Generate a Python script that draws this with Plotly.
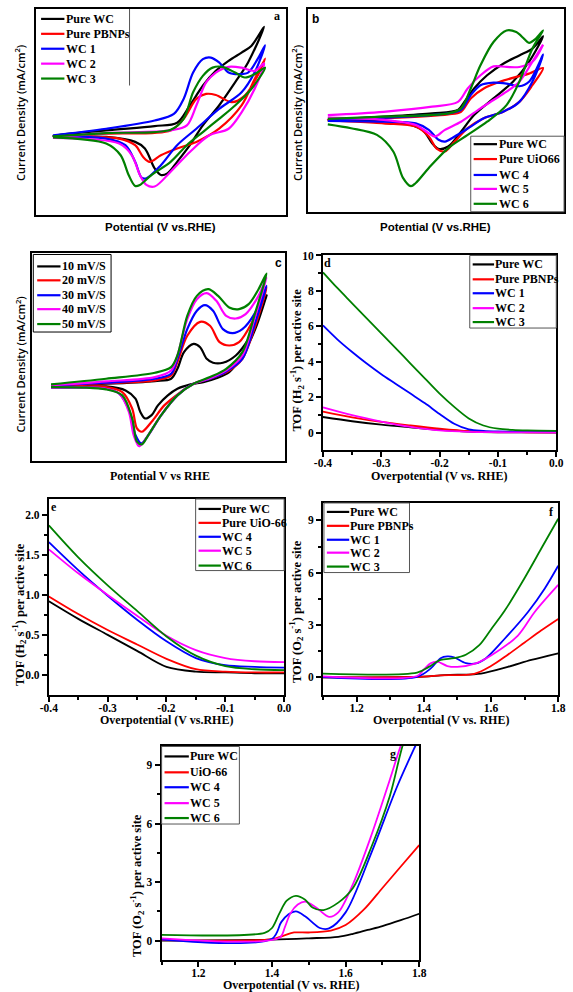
import plotly.graph_objects as go

W, H = 573, 992

COLORS = ["#000000", "#ff0000", "#0000ff", "#ff00ff", "#008000"]

# ---------------- Panel a (CV, arbitrary units) ----------------
A_NAMES = ["Pure WC", "Pure PBNPs", "WC 1", "WC 2", "WC 3"]
A_PURE_WC_X = [6.7, 28.0, 47.4, 56.4, 61.5, 66.7, 71.9, 77.0, 82.2, 86.1, 91.2,
               84.8, 79.6, 73.2, 66.7, 61.5, 56.4, 52.5, 49.9, 47.4, 43.5, 39.6, 28.0, 6.7]
A_PURE_WC_Y = [38.3, 41.0, 43.1, 44.7, 53.1, 62.7, 69.9, 74.8, 78.8, 82.0, 91.3,
               74.0, 64.3, 53.1, 43.4, 33.8, 25.7, 20.1, 19.3, 22.5, 32.2, 35.4, 37.8, 38.3]
A_PBNPS_X = [6.7, 28.0, 53.8, 59.0, 64.1, 68.0, 71.9, 78.3, 83.5, 88.6, 91.6,
             87.4, 82.2, 73.2, 64.1, 56.4, 49.9, 45.4, 42.8, 39.6, 33.2, 6.7]
A_PBNPS_Y = [37.8, 39.4, 41.0, 46.6, 56.3, 58.7, 58.2, 54.7, 57.9, 67.5, 75.9,
             65.9, 53.1, 41.8, 35.4, 32.2, 28.9, 25.7, 28.1, 33.8, 37.0, 37.6]
A_WC1_X = [6.7, 28.0, 47.4, 55.1, 59.0, 62.8, 66.7, 69.9, 73.2, 77.0, 80.9, 84.8, 88.6, 91.6,
           87.4, 82.2, 73.2, 64.1, 56.4, 49.9, 44.1, 42.2, 39.6, 35.7, 28.0, 6.7]
A_WC1_Y = [38.6, 41.8, 45.8, 49.0, 56.3, 69.1, 75.6, 76.4, 74.0, 69.1, 68.3, 69.1, 75.6, 82.3,
           69.1, 59.5, 51.4, 41.8, 33.8, 24.1, 17.7, 18.0, 25.7, 33.8, 37.0, 38.1]
A_WC2_X = [6.7, 28.0, 53.8, 60.3, 64.1, 68.0, 71.9, 77.0, 82.2, 87.4, 91.2,
           87.4, 82.2, 77.0, 69.3, 61.5, 53.8, 47.4, 44.1, 41.5, 38.3, 33.2, 6.7]
A_WC2_Y = [37.6, 39.7, 41.0, 43.4, 53.1, 64.3, 69.1, 71.9, 71.5, 69.9, 73.6,
           61.1, 49.8, 41.8, 38.6, 30.5, 20.9, 13.7, 14.5, 19.3, 28.9, 34.6, 37.3]
A_WC3_X = [6.7, 28.0, 53.8, 59.0, 62.8, 66.7, 70.6, 74.5, 79.6, 83.5, 87.4, 91.6,
           86.1, 79.6, 73.2, 66.7, 60.3, 53.8, 46.1, 41.5, 39.6, 37.0, 33.8, 28.0, 6.7]
A_WC3_Y = [38.1, 39.7, 41.3, 46.6, 59.5, 67.5, 71.5, 71.9, 69.1, 66.7, 68.3, 71.5,
           61.1, 53.1, 46.6, 40.2, 33.8, 25.7, 19.3, 14.5, 14.0, 19.3, 28.9, 34.6, 37.6]

# ---------------- Panel b (CV, arbitrary units) ----------------
B_NAMES = ["Pure WC", "Pure UiO66", "WC 4", "WC 5", "WC 6"]
B_PURE_WC_X = [7.6, 29.4, 48.4, 58.5, 61.0, 64.8, 69.9, 76.2, 82.5, 87.6, 91.8,
               86.3, 80.0, 72.4, 64.8, 59.7, 54.7, 50.9, 48.4, 44.6, 35.7, 7.6]
B_PURE_WC_Y = [45.3, 46.9, 48.5, 50.2, 54.2, 60.8, 67.3, 73.0, 77.1, 80.4, 86.6,
               73.9, 64.1, 55.9, 47.7, 39.5, 32.2, 31.0, 33.8, 40.4, 44.1, 44.8]
B_UIO_X = [7.6, 29.4, 54.7, 59.7, 63.5, 68.6, 74.9, 81.3, 86.3, 91.8,
           87.6, 82.5, 76.2, 68.6, 62.3, 57.2, 53.4, 50.3, 47.1, 42.0, 29.4, 7.6]
B_UIO_Y = [45.3, 46.1, 48.0, 49.3, 55.9, 60.8, 64.1, 66.5, 68.1, 70.9,
           62.4, 54.2, 49.3, 46.1, 41.2, 34.6, 29.7, 31.0, 37.1, 42.0, 43.6, 45.3]
B_WC4_X = [7.6, 29.4, 54.7, 59.7, 63.5, 67.3, 72.4, 77.5, 82.5, 86.3, 91.8,
           87.6, 82.5, 76.2, 68.6, 63.5, 57.2, 53.4, 50.9, 47.1, 42.0, 29.4, 7.6]
B_WC4_Y = [45.3, 46.4, 48.5, 50.2, 57.5, 62.4, 63.7, 63.2, 61.9, 64.1, 77.5,
           64.1, 54.2, 49.3, 46.1, 42.0, 37.1, 34.6, 35.5, 40.4, 43.6, 44.4, 44.8]
B_WC5_X = [7.6, 29.4, 48.4, 58.5, 62.3, 67.3, 72.4, 77.5, 82.5, 87.6, 91.8,
           87.6, 82.5, 77.5, 72.4, 67.3, 59.7, 53.4, 49.6, 47.1, 42.0, 29.4, 7.6]
B_WC5_Y = [47.7, 49.3, 51.8, 54.2, 60.8, 67.3, 71.7, 71.4, 71.4, 73.9, 82.4,
           73.9, 64.1, 59.2, 55.1, 51.0, 44.4, 40.4, 37.1, 38.7, 42.8, 45.3, 46.4]
B_WC6_X = [7.6, 29.4, 54.7, 59.7, 63.5, 67.3, 72.4, 77.5, 81.3, 84.4, 86.3, 88.9, 91.8,
           87.6, 82.5, 77.5, 69.9, 62.3, 54.7, 47.1, 42.0, 40.1, 37.0, 33.2, 26.8, 16.7, 7.6]
B_WC6_Y = [45.8, 46.9, 48.5, 51.0, 60.8, 72.2, 83.7, 89.4, 88.6, 85.3, 83.3, 85.3, 89.4,
           80.4, 64.1, 52.6, 44.4, 37.9, 31.4, 21.6, 14.2, 12.6, 16.7, 29.7, 37.9, 41.2, 43.1]

# ---------------- Panel c (CV at scan rates) ----------------
C_NAMES = ["10 mV/S", "20 mV/S", "30 mV/S", "40 mV/S", "50 mV/S"]
C_10_X = [7.4, 29.2, 48.5, 54.9, 57.4, 60.0, 63.8, 66.4, 69.0, 71.5, 75.4, 80.5, 85.6, 89.5, 92.7,
          88.2, 83.1, 77.9, 72.8, 67.7, 62.6, 57.4, 53.6, 49.7, 47.2, 44.6, 42.7, 40.8, 36.9, 29.2, 7.4]
C_10_Y = [36.5, 37.3, 38.6, 39.7, 44.5, 52.5, 56.5, 54.9, 49.3, 47.4, 47.4, 50.9, 58.9, 68.4, 79.9,
          63.6, 50.9, 42.9, 40.0, 38.1, 37.0, 34.9, 31.7, 26.9, 22.2, 20.6, 23.8, 30.1, 34.1, 36.0, 36.0]
C_20_X = [7.4, 29.2, 48.5, 54.9, 57.4, 61.3, 66.4, 70.3, 74.1, 77.9, 81.8, 86.9, 92.7,
          88.2, 83.1, 77.9, 70.3, 63.8, 58.7, 52.3, 47.2, 43.3, 41.4, 39.5, 35.6, 29.2, 7.4]
C_20_Y = [36.5, 37.6, 38.9, 41.3, 47.7, 60.4, 67.1, 65.2, 57.3, 55.7, 57.3, 66.8, 83.6,
          65.2, 49.3, 43.7, 39.7, 37.3, 33.3, 27.0, 19.0, 14.2, 15.8, 25.4, 33.3, 35.7, 35.7]
C_30_X = [7.4, 29.2, 48.5, 54.9, 57.4, 61.3, 65.1, 68.3, 71.5, 75.4, 79.2, 83.1, 88.2, 92.7,
          88.2, 83.1, 76.7, 70.3, 63.8, 57.4, 51.0, 45.9, 43.1, 40.8, 38.5, 34.4, 29.2, 7.4]
C_30_Y = [36.5, 37.8, 39.7, 42.1, 49.3, 63.6, 72.4, 75.1, 72.4, 63.6, 61.7, 63.6, 71.6, 84.4,
          66.8, 49.3, 43.2, 39.7, 37.3, 31.7, 22.2, 12.6, 8.6, 12.6, 23.8, 32.5, 34.9, 35.4]
C_40_X = [7.4, 29.2, 48.5, 54.9, 57.4, 61.3, 65.1, 69.0, 72.8, 76.7, 80.5, 84.4, 89.5, 92.7,
          88.2, 83.1, 76.7, 70.3, 63.8, 57.4, 51.0, 45.9, 42.3, 40.1, 38.2, 34.4, 29.2, 7.4]
C_40_Y = [36.5, 38.4, 40.5, 43.7, 50.9, 68.4, 78.0, 80.9, 77.2, 70.0, 68.7, 70.8, 79.6, 88.4,
          70.0, 50.9, 43.7, 40.0, 37.3, 31.7, 22.2, 12.6, 7.2, 12.6, 23.8, 32.5, 34.9, 35.4]
C_50_X = [7.4, 29.2, 48.5, 54.9, 57.4, 61.3, 65.1, 69.6, 73.5, 77.9, 81.8, 85.6, 89.5, 92.7,
          88.2, 83.1, 76.7, 70.3, 63.8, 57.4, 51.0, 45.9, 43.3, 41.4, 39.5, 35.6, 29.2, 7.4]
C_50_Y = [37.0, 39.7, 42.6, 45.3, 50.9, 70.0, 79.6, 82.8, 79.6, 74.0, 73.2, 75.6, 82.8, 90.3,
          71.6, 52.5, 44.5, 40.5, 37.3, 31.7, 22.2, 12.6, 8.1, 9.4, 20.6, 31.7, 34.6, 35.7]

# ---------------- Panel d (TOF H2) ----------------
D_NAMES = ["Pure WC", "Pure PBNPs", "WC 1", "WC 2", "WC 3"]
D_X9 = [-0.4, -0.35, -0.3, -0.25, -0.2, -0.15, -0.1, -0.05, 0.0]
D_PURE_WC = [0.88, 0.64, 0.45, 0.30, 0.16, 0.06, 0.02, 0.01, 0.0]
D_PBNPS = [1.18, 0.86, 0.60, 0.40, 0.22, 0.08, 0.03, 0.02, 0.02]
D_WC2 = [1.42, 0.98, 0.62, 0.32, 0.12, 0.04, 0.02, 0.01, 0.0]
D_X15 = [-0.4, -0.375, -0.35, -0.325, -0.3, -0.275, -0.25, -0.225, -0.2, -0.175, -0.15,
         -0.125, -0.1, -0.05, 0.0]
D_WC1 = [6.05, 5.25, 4.55, 3.9, 3.3, 2.75, 2.2, 1.65, 1.05, 0.5, 0.18, 0.1, 0.07, 0.05, 0.05]
D_X16 = [-0.4, -0.375, -0.35, -0.325, -0.3, -0.275, -0.25, -0.225, -0.2, -0.175, -0.15,
         -0.125, -0.1, -0.075, -0.05, 0.0]
D_WC3 = [9.05, 8.15, 7.3, 6.45, 5.6, 4.75, 3.9, 3.05, 2.2, 1.45, 0.8, 0.4, 0.22, 0.15, 0.12, 0.1]

# ---------------- Panel e (TOF H2) ----------------
E_NAMES = ["Pure WC", "Pure UiO-66", "WC 4", "WC 5", "WC 6"]
E_X = [-0.4, -0.35, -0.3, -0.25, -0.2, -0.15, -0.1, -0.05, 0.0]
E_PURE_WC = [0.92, 0.70, 0.50, 0.30, 0.10, 0.04, 0.03, 0.02, 0.02]
E_UIO = [0.98, 0.76, 0.56, 0.38, 0.20, 0.07, 0.04, 0.03, 0.03]
E_WC4 = [1.66, 1.31, 0.99, 0.69, 0.42, 0.21, 0.12, 0.10, 0.09]
E_WC5 = [1.57, 1.27, 1.00, 0.74, 0.49, 0.31, 0.21, 0.17, 0.16]
E_WC6 = [1.87, 1.47, 1.12, 0.80, 0.48, 0.24, 0.11, 0.07, 0.06]

# ---------------- Panel f (TOF O2) ----------------
F_NAMES = ["Pure WC", "Pure PBNPs", "WC 1", "WC 2", "WC 3"]
F_PURE_WC_X = [1.1, 1.4, 1.45, 1.5, 1.57, 1.65, 1.72, 1.8]
F_PURE_WC = [0.0, 0.04, 0.12, 0.15, 0.22, 0.6, 1.0, 1.38]
F_PBNPS_X = [1.1, 1.4, 1.45, 1.55, 1.6, 1.65, 1.7, 1.75, 1.8]
F_PBNPS = [0.0, 0.04, 0.12, 0.2, 0.65, 1.3, 2.0, 2.7, 3.35]
F_WC1_X = [1.1, 1.38, 1.42, 1.45, 1.47, 1.49, 1.525, 1.555, 1.585, 1.64, 1.71, 1.76, 1.8]
F_WC1 = [0.02, 0.03, 0.5, 1.1, 1.2, 1.15, 0.82, 0.8, 1.1, 2.2, 3.75, 5.1, 6.4]
F_WC2_X = [1.1, 1.38, 1.4, 1.42, 1.44, 1.47, 1.5, 1.555, 1.6, 1.68, 1.73, 1.8]
F_WC2 = [0.06, 0.08, 0.45, 0.8, 0.9, 0.65, 0.6, 0.8, 1.25, 2.4, 3.75, 5.3]
F_WC3_X = [1.1, 1.38, 1.415, 1.45, 1.49, 1.525, 1.565, 1.6, 1.64, 1.7, 1.75, 1.8]
F_WC3 = [0.22, 0.27, 0.6, 1.0, 1.1, 1.3, 1.85, 2.75, 3.8, 5.7, 7.4, 9.1]

# ---------------- Panel g (TOF O2) ----------------
G_NAMES = ["Pure WC", "UiO-66", "WC 4", "WC 5", "WC 6"]
G_PURE_WC_X = [1.1, 1.4, 1.5, 1.58, 1.62, 1.66, 1.7, 1.75, 1.8]
G_PURE_WC = [0.0, 0.05, 0.12, 0.2, 0.35, 0.55, 0.75, 1.05, 1.38]
G_UIO_X = [1.1, 1.4, 1.43, 1.46, 1.5, 1.56, 1.6, 1.65, 1.7, 1.75, 1.8]
G_UIO = [0.03, 0.08, 0.25, 0.42, 0.42, 0.52, 0.8, 1.6, 2.7, 3.8, 4.9]
G_WC4_X = [1.1, 1.4, 1.425, 1.445, 1.465, 1.49, 1.53, 1.555, 1.6, 1.67, 1.74, 1.79, 1.8]
G_WC4 = [0.06, 0.1, 0.95, 1.35, 1.5, 1.25, 0.65, 0.63, 1.45, 4.5, 7.9, 10.0, 10.4]
G_WC5_X = [1.1, 1.42, 1.435, 1.45, 1.47, 1.49, 1.52, 1.555, 1.58, 1.62, 1.67, 1.715, 1.75, 1.78]
G_WC5 = [0.12, 0.15, 0.7, 1.4, 1.85, 2.0, 1.7, 1.22, 1.45, 2.9, 5.4, 7.95, 10.0, 11.5]
G_WC6_X = [1.1, 1.38, 1.4, 1.42, 1.44, 1.465, 1.49, 1.51, 1.54, 1.58, 1.62, 1.67, 1.72, 1.755, 1.78]
G_WC6 = [0.3, 0.4, 0.65, 1.4, 2.05, 2.3, 2.1, 1.7, 1.57, 1.95, 2.7, 4.8, 7.4, 10.0, 11.3]

# tick labels
D_XTICKS = [-0.4, -0.3, -0.2, -0.1, 0.0]
D_XTICKTEXT = ["-0.4", "-0.3", "-0.2", "-0.1", "0.0"]
D_YTICKS = [0, 2, 4, 6, 8, 10]
E_YTICKS = [0.0, 0.5, 1.0, 1.5, 2.0]
E_YTICKTEXT = ["0.0", "0.5", "1.0", "1.5", "2.0"]
FG_XTICKS = [1.2, 1.4, 1.6, 1.8]
FG_XTICKTEXT = ["1.2", "1.4", "1.6", "1.8"]
FG_YTICKS = [0, 3, 6, 9]

SERIF = "Liberation Serif"
SANS = "Liberation Sans"


def px(x):
    return x / W


def py(y):
    return 1 - y / H


fig = go.Figure()

# panel boxes in pixels: (left, top, right, bottom)
PANELS = {
    "a": (28, 3, 285, 210),
    "b": (308, 3, 571, 207),
    "c": (24, 249, 284, 458),
    "d": (323, 251, 563, 447),
    "e": (41, 496, 283, 693),
    "f": (323, 500, 565, 693),
    "g": (157, 744, 422, 960),
}
AX_ID = {"a": "", "b": "2", "c": "3", "d": "4", "e": "5", "f": "6", "g": "7"}


def add_series(panel, names, xs_list, ys_list, width):
    k = AX_ID[panel]
    for i, (nm, xs, ys) in enumerate(zip(names, xs_list, ys_list)):
        fig.add_trace(go.Scatter(
            x=xs, y=ys, mode="lines", showlegend=False, name=nm,
            line=dict(color=COLORS[i], width=width, shape="spline", smoothing=0.9),
            xaxis="x" + k, yaxis="y" + k, hoverinfo="skip"))


add_series("a", A_NAMES, [A_PURE_WC_X, A_PBNPS_X, A_WC1_X, A_WC2_X, A_WC3_X],
           [A_PURE_WC_Y, A_PBNPS_Y, A_WC1_Y, A_WC2_Y, A_WC3_Y], 2.2)
add_series("b", B_NAMES, [B_PURE_WC_X, B_UIO_X, B_WC4_X, B_WC5_X, B_WC6_X],
           [B_PURE_WC_Y, B_UIO_Y, B_WC4_Y, B_WC5_Y, B_WC6_Y], 2.2)
add_series("c", C_NAMES, [C_10_X, C_20_X, C_30_X, C_40_X, C_50_X],
           [C_10_Y, C_20_Y, C_30_Y, C_40_Y, C_50_Y], 2.2)
add_series("d", D_NAMES, [D_X9, D_X9, D_X15, D_X9, D_X16],
           [D_PURE_WC, D_PBNPS, D_WC1, D_WC2, D_WC3], 1.8)
add_series("e", E_NAMES, [E_X] * 5, [E_PURE_WC, E_UIO, E_WC4, E_WC5, E_WC6], 1.8)
add_series("f", F_NAMES, [F_PURE_WC_X, F_PBNPS_X, F_WC1_X, F_WC2_X, F_WC3_X],
           [F_PURE_WC, F_PBNPS, F_WC1, F_WC2, F_WC3], 1.8)
add_series("g", G_NAMES, [G_PURE_WC_X, G_UIO_X, G_WC4_X, G_WC5_X, G_WC6_X],
           [G_PURE_WC, G_UIO, G_WC4, G_WC5, G_WC6], 1.8)

TICKFONT = dict(family=SERIF, size=11.5, color="black", weight="bold")
layout = dict(width=W, height=H, margin=dict(l=0, r=0, t=0, b=0), autosize=False,
              paper_bgcolor="white", plot_bgcolor="white")

frame = dict(showline=True, mirror=True, linecolor="black", linewidth=2,
             showgrid=False, zeroline=False)

for p, (l, t, r, b) in PANELS.items():
    k = AX_ID[p]
    xa = dict(frame, domain=[px(l), px(r)], anchor="y" + k)
    ya = dict(frame, domain=[py(b), py(t)], anchor="x" + k)
    if p in ("a", "b", "c"):
        xa.update(range=[0, 100], showticklabels=False, ticks="")
        ya.update(range=[0, 100], showticklabels=False, ticks="")
    else:
        common = dict(ticks="outside", ticklen=5, tickwidth=1.5, tickcolor="black",
                      tickfont=TICKFONT, tickmode="array")
        xa.update(common)
        ya.update(common)
        xa.update(ticklabelstandoff=-4)
        if p in ("d", "e"):
            xa.update(range=[-0.4, 0.0], tickvals=D_XTICKS, ticktext=D_XTICKTEXT,
                      minor=dict(ticks="outside", ticklen=3, tickcolor="black",
                                 tickvals=[-0.35, -0.25, -0.15, -0.05]))
        else:
            xa.update(range=[1.1, 1.8], tickvals=FG_XTICKS, ticktext=FG_XTICKTEXT,
                      minor=dict(ticks="outside", ticklen=3, tickcolor="black",
                                 tickvals=[1.1, 1.3, 1.5, 1.7]))
        if p == "d":
            ya.update(range=[-1, 10], tickvals=D_YTICKS,
                      minor=dict(ticks="outside", ticklen=3, tickcolor="black",
                                 tickvals=[1, 3, 5, 7, 9]))
        elif p == "e":
            ya.update(range=[-0.25, 2.2], tickvals=E_YTICKS, ticktext=E_YTICKTEXT,
                      minor=dict(ticks="outside", ticklen=3, tickcolor="black",
                                 tickvals=[0.25, 0.75, 1.25, 1.75]))
        else:
            ya.update(range=[-1, 10], tickvals=FG_YTICKS,
                      minor=dict(ticks="outside", ticklen=3, tickcolor="black",
                                 tickvals=[1.5, 4.5, 7.5]))
    layout["xaxis" + k] = xa
    layout["yaxis" + k] = ya

fig.update_layout(**layout)

annotations = []
shapes = []


def text(x, y, s, font, angle=0, xanchor="center"):
    annotations.append(dict(x=px(x), y=py(y), xref="paper", yref="paper", text=s,
                            showarrow=False, font=font, textangle=angle,
                            xanchor=xanchor, yanchor="middle"))


SERIF_B = dict(family=SERIF, size=12, color="black", weight="bold")
YLAB_B = dict(family=SERIF, size=12.5, color="black", weight="bold")
SANS_B = dict(family=SANS, size=11.5, color="black", weight="bold")
SANS_Y = dict(family="Open Sans", size=11, color="black", weight=600)

# axis titles
text(156, 222, "Potential (V vs.RHE)", SANS_B)
text(439, 222, "Potential (V vs.RHE)", SANS_B)
text(12, 107, "Current Density (mA/cm<sup>2</sup>)", SANS_Y, -90)
text(297, 107, "Current Density (mA/cm<sup>2</sup>)", SANS_Y, -90)
text(155, 473, "Potential V vs RHE", SERIF_B)
text(12, 360, "Current Density (mA/cm<sup>2</sup>)", SANS_Y, -90)
text(442, 473, "Overpotential (V vs. RHE)", SERIF_B)
text(296, 356, "TOF (H<sub>2</sub> s<sup>-1</sup>) per active site", YLAB_B, -90)
text(162, 718, "Overpotential (V vs.RHE)", SERIF_B)
text(11, 612, "TOF (H<sub>2</sub> s<sup>-1</sup>) per active site", YLAB_B, -90)
text(444, 718, "Overpotential (V vs. RHE)", SERIF_B)
text(296, 609, "TOF (O<sub>2</sub> s<sup>-1</sup>) per active site", YLAB_B, -90)
text(290, 985, "Overpotential (V vs. RHE)", SERIF_B)
text(131, 885, "TOF (O<sub>2</sub> s<sup>-1</sup>) per active site", YLAB_B, -90)

# panel letters
text(276, 10, "a", SERIF_B)
text(315, 13, "b", dict(family=SANS, size=12, color="black", weight="bold"))
text(277, 259, "c", dict(family=SANS, size=12, color="black", weight="bold"))
text(328, 259, "d", SERIF_B)
text(46, 504, "e", SERIF_B)
text(558, 509, "f", SERIF_B)
text(395, 753, "g", SERIF_B)


def legend(names, box, ys, lx0, lx1, tx, border="#555555"):
    if box is not None:
        l, t, r, b = box
        shapes.append(dict(type="rect", xref="paper", yref="paper",
                           x0=px(l), x1=px(r), y0=py(b), y1=py(t),
                           fillcolor="white", line=dict(color=border, width=1),
                           layer="above"))
    for i, (nm, y) in enumerate(zip(names, ys)):
        shapes.append(dict(type="line", xref="paper", yref="paper",
                           x0=px(lx0), x1=px(lx1), y0=py(y), y1=py(y),
                           line=dict(color=COLORS[i], width=2.2), layer="above"))
        text(tx, y, nm, SERIF_B, xanchor="left")


legend(A_NAMES, None, [13, 28, 43, 58, 73], 33, 57, 57)
shapes.append(dict(type="line", xref="paper", yref="paper", x0=px(124), x1=px(124),
                   y0=py(3), y1=py(80), line=dict(color="#555555", width=1)))
legend(B_NAMES, (475, 131, 571, 207), [139, 154, 170, 184, 199], 478, 502, 502)
legend(C_NAMES, (25, 250, 105, 328), [262, 276, 291, 305, 320], 29, 53, 52, border="black")
legend(D_NAMES, (474, 251, 563, 324), [260, 275, 289, 304, 318], 477, 499, 498)
legend(E_NAMES, (192, 496, 283, 568), [506, 520, 534, 548, 563], 195, 218, 217)
legend(F_NAMES, (324, 500, 412, 570), [509, 523, 537, 550, 564], 327, 350, 349)
legend(G_NAMES, (157, 745, 237, 823), [755, 771, 786, 802, 817], 160, 185, 184)

fig.update_layout(annotations=annotations, shapes=shapes)
fig.write_html(
    "out.html",
    config={"displayModeBar": False},
    post_script="document.body.style.margin='0';document.body.style.overflow='hidden';",
)
